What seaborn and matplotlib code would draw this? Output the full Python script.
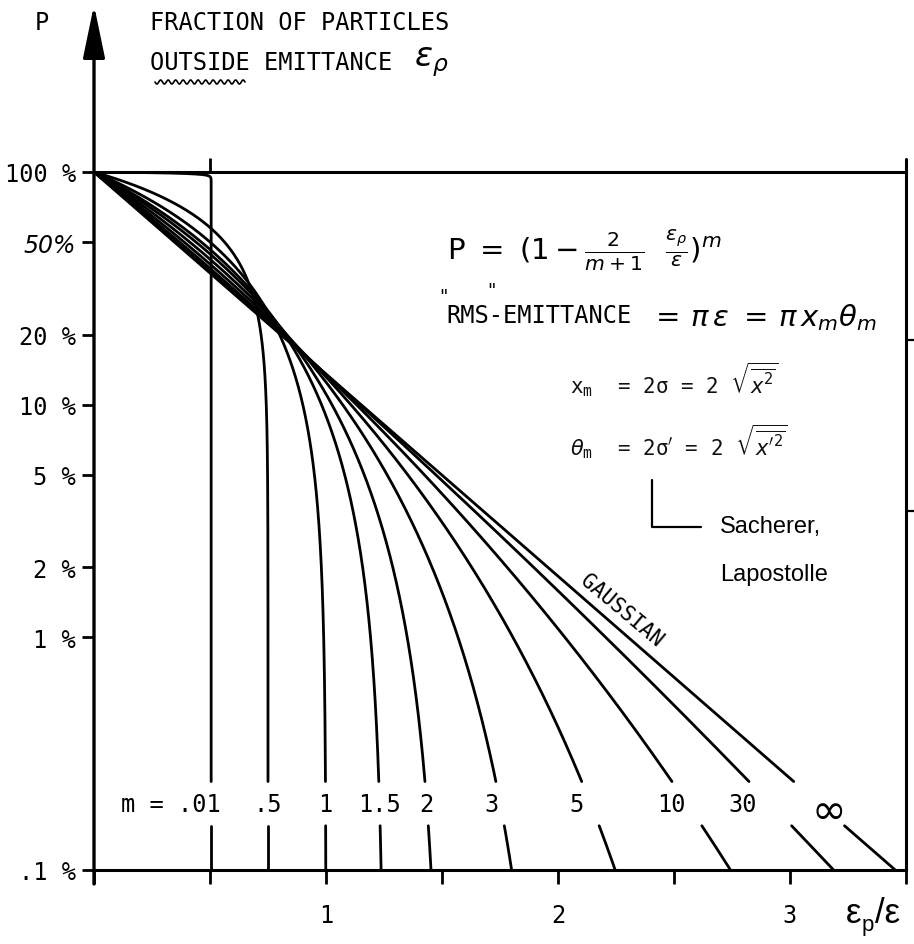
import numpy as np
import pandas as pd
import matplotlib
matplotlib.use("Agg")
import matplotlib.pyplot as plt
from matplotlib.lines import Line2D
from matplotlib.ticker import NullLocator
import seaborn as sns

# Distribution exponents m and their labels along the bottom row
m_values = [0.01, 0.5, 1.0, 1.5, 2.0, 3.0, 5.0, 10.0, 30.0, np.inf]
m_labels = [".01", ".5", "1", "1.5", "2", "3", "5", "10", "30", "\u221e"]

# Axis ticks
p_ticks = [1.0, 0.5, 0.2, 0.1, 0.05, 0.02, 0.01, 0.001]
p_tick_labels = ["100 %", "50%", "20 %", "10 %", "5 %", "2 %", "1 %", ".1 %"]
x_ticks = [0.0, 0.5, 1.0, 1.5, 2.0, 2.5, 3.0, 3.5]
x_tick_labels = ["", "", "1", "", "2", "", "3", ""]
right_ticks = [0.19, 0.035]

P_MIN = 0.001
LABEL_BAND = (0.00155, 0.0024)   # curves are left open here for the m labels
W, H = 914, 945


def fraction_outside(x, m):
    """P = (1 - 2/(m+1) * eps_p/eps)^m ; m -> infinity gives the Gaussian exp(-2x)."""
    x = np.asarray(x, float)
    if np.isinf(m):
        return np.exp(-2.0 * x)
    base = np.clip(1.0 - 2.0 * x / (m + 1.0), 0.0, None)
    return base ** m


def emittance_at(p, m):
    p = np.asarray(p, float)
    if np.isinf(m):
        return -np.log(p) / 2.0
    return (m + 1.0) / 2.0 * (1.0 - p ** (1.0 / m))


rows = []
for m, lab in zip(m_values, m_labels):
    x_end = float(emittance_at(P_MIN, m))
    xs = np.linspace(0.0, x_end, 1500)
    ps = fraction_outside(xs, m)
    pg = np.logspace(0, np.log10(P_MIN), 1500)
    xg = emittance_at(pg, m)
    x_all = np.concatenate([xs, xg])
    p_all = np.concatenate([ps, pg])
    keep = p_all >= P_MIN * 0.9999
    x_all, p_all = x_all[keep], p_all[keep]
    order = np.lexsort((-p_all, x_all))
    x_all, p_all = x_all[order], p_all[order]
    for seg, mask in (("upper", p_all > LABEL_BAND[1]), ("lower", p_all < LABEL_BAND[0])):
        rows.append(pd.DataFrame({"x": x_all[mask], "P": p_all[mask],
                                  "m": lab, "unit": f"{lab}-{seg}"}))
curves = pd.concat(rows, ignore_index=True)

sns.set_theme(style="white")
plt.rcParams["font.family"] = ["DejaVu Sans Mono", "DejaVu Sans"]
plt.rcParams["mathtext.fontset"] = "dejavusans"
for key in ("text.color", "axes.labelcolor", "xtick.color", "ytick.color",
            "xtick.labelcolor", "ytick.labelcolor"):
    plt.rcParams[key] = "black"

fig = plt.figure(figsize=(W / 100, H / 100), dpi=100)
fig.patch.set_facecolor("white")
ax = fig.add_axes([94 / W, 74 / H, 812 / W, 698 / H])
ax.set_facecolor("white")


def fx(px):
    return px / W


def fy(py):
    return 1 - py / H


sns.lineplot(data=curves, x="x", y="P", hue="m", units="unit", estimator=None,
             sort=False, palette=["black"] * len(m_labels), legend=False,
             linewidth=2.0, ax=ax)

ax.set_yscale("log")
ax.set_xlim(0, 3.5)
ax.set_ylim(P_MIN, 1.0)
ax.set_xlabel("")
ax.set_ylabel("")

ax.set_yticks(p_ticks)
ax.set_yticklabels(p_tick_labels)
ax.yaxis.set_minor_locator(NullLocator())
ax.set_xticks(x_ticks)
ax.set_xticklabels(x_tick_labels)
ax.tick_params(axis="y", which="major", direction="out", length=9, width=2,
               color="black", labelcolor="black", labelsize=17, pad=4, left=True)
ax.tick_params(axis="x", which="major", direction="out", length=10, width=2,
               color="black", labelcolor="black", labelsize=17, pad=14, bottom=True)
for t in ax.get_yticklabels():
    if t.get_text() == "50%":
        t.set_fontstyle("italic")
        t.set_family("DejaVu Sans")
        t.set_fontsize(17)

for side in ("top", "bottom"):
    ax.spines[side].set_color("black")
    ax.spines[side].set_linewidth(2.2)
ax.spines["left"].set_visible(False)
ax.spines["right"].set_visible(False)

# vertical axis with arrow, and right border
ax.annotate("", xy=(0, (945 - 6 - 74) / 698), xycoords="axes fraction",
            xytext=(0, -14 / 698), textcoords="axes fraction",
            arrowprops=dict(arrowstyle="-|>,head_length=1.3,head_width=0.27",
                            mutation_scale=25, lw=2.4, color="black",
                            shrinkA=0, shrinkB=0))
ax.axvline(3.5, ymin=0, ymax=(871 - 160) / 698, color="black", lw=2.2, clip_on=False)

sec_r = ax.secondary_yaxis("right")
sec_r.set_yticks(right_ticks)
sec_r.set_yticklabels([])
sec_r.yaxis.set_minor_locator(NullLocator())
sec_r.tick_params(direction="out", length=6, width=1.6, color="black")
sec_r.spines["right"].set_visible(False)

sec_t = ax.secondary_xaxis("top")
sec_t.set_xticks([0.5])
sec_t.set_xticklabels([])
sec_t.tick_params(direction="out", length=10, width=2, color="black")
sec_t.spines["top"].set_visible(False)

# m labels in the open band of the curves
label_p = 0.00192
label_shift = {".01": 0.04, "3": -0.04, "5": -0.06, "10": -0.07, "30": -0.12, "\u221e": 0.04}
for m, lab in zip(m_values, m_labels):
    xc = float(emittance_at(label_p, m)) + label_shift.get(lab, 0.0)
    if lab == ".01":
        ax.text(xc, label_p, "m = .01", ha="right", va="center",
                fontsize=17, color="black")
    elif lab == "\u221e":
        ax.text(xc, label_p * 0.93, lab, ha="center", va="center",
                fontsize=30, family="DejaVu Sans", color="black")
    else:
        ax.text(xc, label_p, lab, ha="center", va="center",
                fontsize=17, color="black")

# label along the Gaussian line
xg_lab = 2.23
ax.annotate("GAUSSIAN", xy=(xg_lab, float(fraction_outside(xg_lab, np.inf))),
            xytext=(7, 9), textcoords="offset points", rotation=-40,
            rotation_mode="anchor", ha="center", va="center",
            fontsize=15, color="black")

# headings
fig.text(fx(42), fy(23), "P", ha="center", va="center", fontsize=17)
fig.text(fx(150), fy(23), "FRACTION OF PARTICLES", ha="left", va="center", fontsize=17)
fig.text(fx(150), fy(63), "OUTSIDE EMITTANCE", ha="left", va="center", fontsize=17)
fig.text(fx(414), fy(62), r"$\varepsilon_\rho$", ha="left", va="center", fontsize=24)
wx = np.linspace(155, 245, 200)
wy = 83 + 2.0 * np.sin((wx - 155) / 7.5 * 2 * np.pi)
fig.add_artist(Line2D(fx(wx), fy(wy), transform=fig.transFigure, color="black", lw=1.2))

# formulas
fig.text(fx(447), fy(250),
         r"$\mathsf{P}\ =\ (1-\frac{2}{m+1}\ \ \frac{\varepsilon_\rho}{\varepsilon})^{m}$",
         ha="left", va="center", fontsize=21)
fig.text(fx(439), fy(297), '"', ha="left", va="center", fontsize=13, family="DejaVu Sans")
fig.text(fx(487), fy(291), '"', ha="left", va="center", fontsize=13, family="DejaVu Sans")
fig.text(fx(446), fy(316), "RMS-EMITTANCE", ha="left", va="center", fontsize=17)
fig.text(fx(650), fy(318), r"$=\,\pi\,\varepsilon\ =\,\pi\,x_m\theta_m$",
         ha="left", va="center", fontsize=21)
fig.text(fx(570), fy(380), r"$\mathtt{x_m}$  = 2σ = 2 $\sqrt{\overline{x^2}}$",
         ha="left", va="center", fontsize=15, color="#111111")
fig.text(fx(570), fy(442), r"$\theta_\mathtt{m}$  = 2σ$'$ = 2 $\sqrt{\overline{x'^2}}$",
         ha="left", va="center", fontsize=15, color="#111111")
fig.add_artist(Line2D([fx(652), fx(652), fx(701)], [fy(481), fy(528), fy(528)],
                      transform=fig.transFigure, color="black", lw=1.6))
fig.text(fx(720), fy(527), "Sacherer,", ha="left", va="center", fontsize=17,
         family="Liberation Sans")
fig.text(fx(720), fy(575), "Lapostolle", ha="left", va="center", fontsize=17,
         family="Liberation Sans")

# horizontal axis title: eps_p / eps
t_eps = fig.text(fx(846), fy(914), "\u03b5", ha="left", va="center", fontsize=25,
                 family="Liberation Sans")
ax.annotate("p", xy=(1.0, 0.15), xycoords=t_eps, ha="left", va="center",
            fontsize=16, family="Liberation Sans", annotation_clip=False)
ax.annotate("/\u03b5", xy=(1.0, 0.5), xycoords=t_eps, xytext=(10, 0),
            textcoords="offset points", ha="left", va="center",
            fontsize=25, family="Liberation Sans", annotation_clip=False)

fig.savefig("out.png", dpi=100, facecolor="white")
